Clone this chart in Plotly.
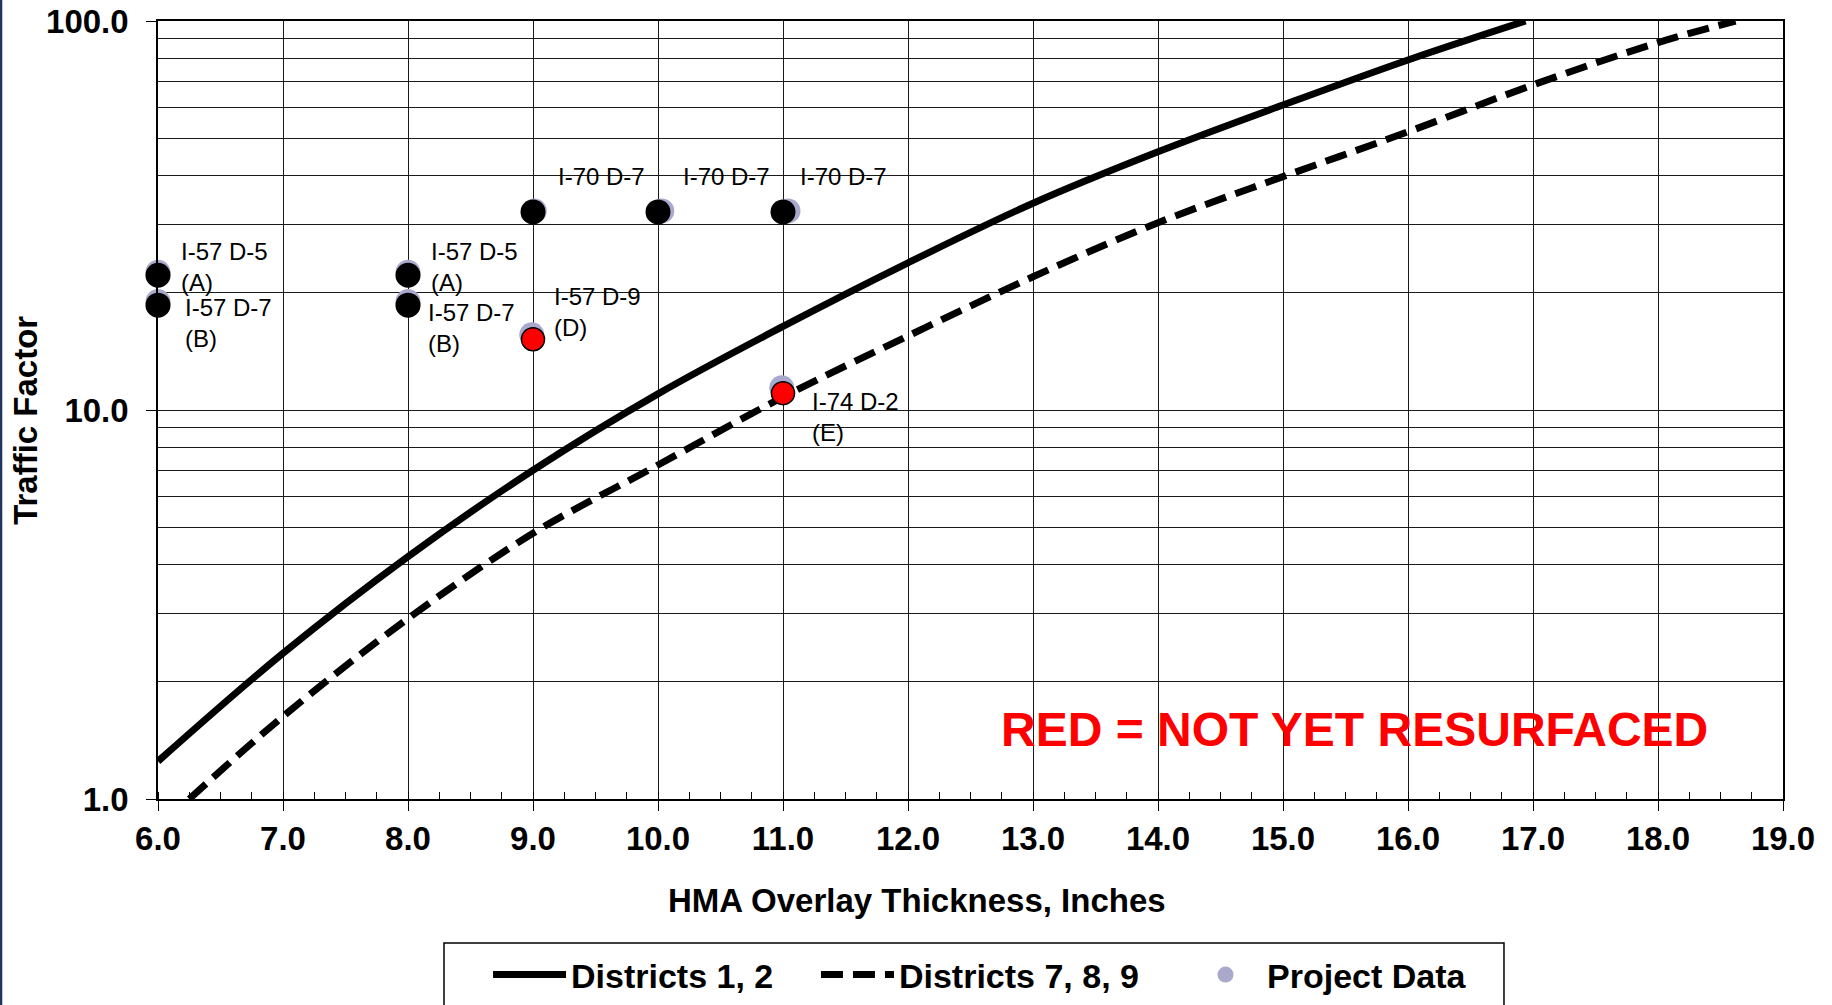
import math
import plotly.graph_objects as go

# ---- data -----------------------------------------------------------------
# Design curves: traffic factor vs. HMA overlay thickness (inches)
d12_thickness = [6.0, 7.0, 8.0, 9.0, 10.0, 11.0, 12.0, 13.0, 14.0, 15.0, 16.0, 16.94]
d12_factor = [1.25, 2.37, 4.2, 7.0, 11.0, 16.4, 23.9, 34.0, 46.1, 60.8, 79.4, 100.0]

d789_thickness = [6.25, 7.0, 8.0, 9.0, 10.0, 11.0, 12.0, 13.0, 14.0, 15.0, 16.0, 17.0, 18.0, 18.62]
d789_factor = [1.0, 1.63, 2.91, 4.82, 7.22, 10.8, 15.5, 22.0, 30.3, 39.8, 51.9, 68.5, 88.0, 100.0]

# Project data (all projects)
proj_thickness = [6.0, 6.0, 8.0, 8.0, 9.01, 10.03, 11.04, 8.99, 10.99]
proj_factor = [22.6, 19.0, 22.6, 19.0, 32.5, 32.5, 32.5, 15.6, 11.4]

# Resurfaced projects
done_thickness = [6.0, 6.0, 8.0, 8.0, 9.0, 10.0, 11.0]
done_factor = [22.2, 18.6, 22.2, 18.6, 32.3, 32.3, 32.3]
done_labels = ["I-57 D-5<br>(A)", "I-57 D-7<br>(B)", "I-57 D-5<br>(A)", "I-57 D-7<br>(B)",
               "I-70 D-7", "I-70 D-7", "I-70 D-7"]

# Projects not yet resurfaced
open_thickness = [9.0, 11.0]
open_factor = [15.2, 11.05]
open_labels = ["I-57 D-9<br>(D)", "I-74 D-2<br>(E)"]

x_ticks = [6, 7, 8, 9, 10, 11, 12, 13, 14, 15, 16, 17, 18, 19]
y_ticks = [1, 10, 100]
y_ticktext = ["1.0", "10.0", "100.0"]
minor_y = [m * 10 ** e for e in (0, 1) for m in range(2, 10)]

# ---- styling --------------------------------------------------------------
FONT = "Liberation Sans, Arial, sans-serif"
GRID = "#1a1a1a"
LAVENDER = "#A9A9CD"

# label offsets in pixels (dx, dy) relative to each marker
done_offsets = [(21, 8), (25, -18), (21, 8), (18, -23), (23, 35), (23, 35), (15, 35)]
open_offsets = [(19, 27), (27, -24)]

fig = go.Figure()

fig.add_trace(go.Scatter(
    x=d12_thickness, y=d12_factor, mode="lines", name="Districts 1, 2",
    line=dict(color="black", width=7, shape="spline"), legend="legend",
))
fig.add_trace(go.Scatter(
    x=d789_thickness, y=d789_factor, mode="lines", name="Districts 7, 8, 9",
    line=dict(color="black", width=7, dash="22px,10px", shape="spline"), legend="legend2",
))
fig.add_trace(go.Scatter(
    x=proj_thickness, y=proj_factor, mode="markers", name="Project Data",
    marker=dict(color=LAVENDER, size=25, line=dict(width=0)),
    cliponaxis=False, legend="legend3",
))
fig.add_trace(go.Scatter(
    x=done_thickness, y=done_factor, mode="markers", showlegend=False,
    marker=dict(color="black", size=25, line=dict(width=0)),
    cliponaxis=False,
))
fig.add_trace(go.Scatter(
    x=open_thickness, y=open_factor, mode="markers", showlegend=False,
    marker=dict(color="#FF0000", size=23, line=dict(color="black", width=1.5)),
    cliponaxis=False,
))

annotations = []
for xs, ys, labels, offs in ((done_thickness, done_factor, done_labels, done_offsets),
                             (open_thickness, open_factor, open_labels, open_offsets)):
    for xv, yv, txt, (dx, dy) in zip(xs, ys, labels, offs):
        annotations.append(dict(
            x=xv, y=math.log10(yv), xref="x", yref="y", text=txt, showarrow=False,
            xanchor="left", yanchor="middle", align="left", xshift=dx, yshift=dy,
            font=dict(family=FONT, size=24, color="black"),
        ))

annotations += [
    dict(text="RED = NOT YET RESURFACED", x=0.7363, y=0.0893, xref="paper", yref="paper",
         showarrow=False, xanchor="center", yanchor="middle",
         font=dict(family=FONT, size=48, color="#FF0000", weight="bold")),
    dict(text="HMA Overlay Thickness, Inches", x=0.467, y=-0.130, xref="paper", yref="paper",
         showarrow=False, xanchor="center", yanchor="middle",
         font=dict(family=FONT, size=33, color="black", weight="bold")),
    dict(text="Traffic Factor", x=-0.082, y=0.487, xref="paper", yref="paper",
         showarrow=False, xanchor="center", yanchor="middle", textangle=-90,
         font=dict(family=FONT, size=33, color="black", weight="bold")),
]

shapes = [
    # legend frame
    dict(type="rect", xref="paper", yref="paper", x0=0.176, x1=0.8283, y0=-0.1851, y1=-0.32,
         line=dict(color="black", width=1.5), fillcolor="rgba(0,0,0,0)", layer="above"),
    # page edge rule on the far left
    dict(type="line", xref="paper", yref="paper", x0=-0.0966, x1=-0.0966, y0=1.1, y1=-0.4,
         line=dict(color="#22355F", width=2.5)),
]

legend_style = dict(
    orientation="h", y=-0.2262, xanchor="left", yanchor="middle",
    font=dict(family=FONT, size=34, color="black", weight="bold"),
    itemwidth=73, bgcolor="rgba(0,0,0,0)", borderwidth=0,
)

fig.update_layout(
    width=1832, height=1005,
    margin=dict(l=158, r=49, t=21, b=206, autoexpand=False),
    paper_bgcolor="white", plot_bgcolor="white",
    showlegend=True,
    legend=dict(x=0.2031, **legend_style),
    legend2=dict(x=0.4049, **legend_style),
    legend3=dict(x=0.6314, **legend_style),
    annotations=annotations,
    shapes=shapes,
)

fig.update_xaxes(
    range=[6, 19], tickvals=x_ticks, tickformat=".1f",
    showgrid=True, gridcolor=GRID, gridwidth=1,
    showline=True, linecolor="black", linewidth=1.5, mirror=True,
    ticks="outside", ticklen=10, tickcolor="black", tickwidth=1,
    tickfont=dict(family=FONT, size=33, color="black", weight="bold"),
    ticklabelstandoff=0,
    minor=dict(dtick=0.25, ticks="inside", ticklen=7, tickcolor="black", tickwidth=1, showgrid=False),
    zeroline=False,
)
fig.update_yaxes(
    type="log", range=[0, 2], tickvals=y_ticks, ticktext=y_ticktext,
    showgrid=True, gridcolor=GRID, gridwidth=1,
    showline=True, linecolor="black", linewidth=1.5, mirror=True,
    ticks="outside", ticklen=10, tickcolor="black", tickwidth=1,
    tickfont=dict(family=FONT, size=33, color="black", weight="bold"),
    ticklabelstandoff=11,
    minor=dict(tickvals=minor_y, showgrid=True, gridcolor=GRID, gridwidth=1, ticks=""),
    zeroline=False,
)

fig.write_html("out.html")
